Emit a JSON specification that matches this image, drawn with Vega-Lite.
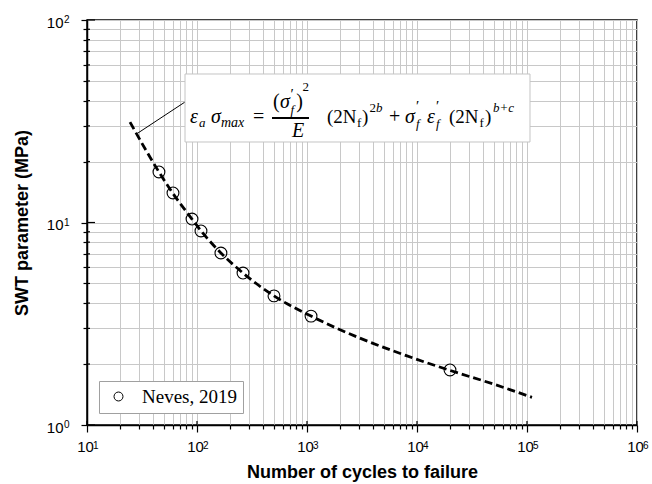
{
  "$schema": "https://vega.github.io/schema/vega-lite/v6.json",
  "width": 550,
  "height": 405,
  "autosize": {"type": "none"},
  "padding": {"left": 87, "top": 20, "right": 15, "bottom": 59},
  "background": "white",
  "data": {"values": [{}]},
  "datasets": {
    "curve": [
      {"N": 24.6, "S": 31.3},
      {"N": 45, "S": 17.8},
      {"N": 60, "S": 14.0},
      {"N": 90, "S": 10.4},
      {"N": 109, "S": 9.08},
      {"N": 165, "S": 7.07},
      {"N": 262, "S": 5.63},
      {"N": 501, "S": 4.34},
      {"N": 1088, "S": 3.45},
      {"N": 3000, "S": 2.69},
      {"N": 8000, "S": 2.2},
      {"N": 19950, "S": 1.86},
      {"N": 50000, "S": 1.59},
      {"N": 111000, "S": 1.37}
    ],
    "points": [
      {"N": 45.1, "S": 17.76, "series": "Neves, 2019"},
      {"N": 60.5, "S": 13.99, "series": "Neves, 2019"},
      {"N": 90.1, "S": 10.4, "series": "Neves, 2019"},
      {"N": 108.7, "S": 9.08, "series": "Neves, 2019"},
      {"N": 165, "S": 7.07, "series": "Neves, 2019"},
      {"N": 262, "S": 5.63, "series": "Neves, 2019"},
      {"N": 501, "S": 4.34, "series": "Neves, 2019"},
      {"N": 1088, "S": 3.45, "series": "Neves, 2019"},
      {"N": 19950, "S": 1.87, "series": "Neves, 2019"}
    ],
    "xexp": [
      {"N": 10, "e": "1"}, {"N": 100, "e": "2"}, {"N": 1000, "e": "3"},
      {"N": 10000, "e": "4"}, {"N": 100000, "e": "5"}, {"N": 1000000, "e": "6"}
    ],
    "yexp": [
      {"S": 1, "e": "0"}, {"S": 10, "e": "1"}, {"S": 100, "e": "2"}
    ],
    "yminor": [
      {"S": 2}, {"S": 3}, {"S": 4}, {"S": 5}, {"S": 6}, {"S": 7}, {"S": 8}, {"S": 9},
      {"S": 20}, {"S": 30}, {"S": 40}, {"S": 50}, {"S": 60}, {"S": 70}, {"S": 80}, {"S": 90}
    ]
  },
  "layer": [
    {
      "data": {"name": "curve"},
      "mark": {"type": "line", "interpolate": "monotone", "color": "black", "strokeWidth": 2.8, "strokeDash": [8, 4]},
      "encoding": {
        "x": {
          "field": "N", "type": "quantitative",
          "scale": {"type": "log", "domain": [10, 1000000], "nice": false},
          "axis": {
            "title": "Number of cycles to failure",
            "values": [10,20,30,40,50,60,70,80,90,100,200,300,400,500,600,700,800,900,1000,2000,3000,4000,5000,6000,7000,8000,9000,10000,20000,30000,40000,50000,60000,70000,80000,90000,100000,200000,300000,400000,500000,600000,700000,800000,900000,1000000],
            "labelExpr": "abs(log(datum.value)/LN10 - round(log(datum.value)/LN10)) < 1e-6 ? '10' : ''",
            "tickSize": {"condition": {"test": "abs(log(datum.value)/LN10 - round(log(datum.value)/LN10)) < 1e-6", "value": 7}, "value": 4},
            "labelPadding": 7,
            "labelOffset": -2,
            "labelOverlap": false,
            "labelFlush": false,
            "labelBound": false,
            "titlePadding": 9,
            "grid": true
          }
        },
        "y": {
          "field": "S", "type": "quantitative",
          "scale": {"type": "log", "domain": [1, 100], "nice": false},
          "axis": {
            "title": "SWT parameter (MPa)",
            "values": [1,2,3,4,5,6,7,8,9,10,20,30,40,50,60,70,80,90,100],
            "labelExpr": "abs(log(datum.value)/LN10 - round(log(datum.value)/LN10)) < 1e-6 ? '10' : ''",
            "tickSize": {"condition": {"test": "abs(log(datum.value)/LN10 - round(log(datum.value)/LN10)) < 1e-6", "value": 6}, "value": 4},
            "labelPadding": 18,
            "labelOffset": 2,
            "labelOverlap": false,
            "labelFlush": false,
            "labelBound": false,
            "titlePadding": 15,
            "grid": true
          }
        }
      }
    },
    {
      "data": {"name": "points"},
      "mark": {"type": "point", "filled": false, "color": "black", "strokeWidth": 1.1, "size": 140, "opacity": 1},
      "encoding": {
        "x": {"field": "N", "type": "quantitative"},
        "y": {"field": "S", "type": "quantitative"},
        "shape": {
          "field": "series", "type": "nominal",
          "scale": {"range": ["circle"]},
          "legend": {
            "title": null,
            "orient": "bottom-left",
            "offset": 12,
            "fillColor": "white",
            "strokeColor": "#a0a0a0",
            "padding": 6,
            "symbolOffset": 4,
            "symbolSize": 80,
            "symbolStrokeColor": "black",
            "symbolStrokeWidth": 1,
            "symbolFillColor": "transparent",
            "labelFont": "Liberation Serif",
            "labelFontSize": 19,
            "labelColor": "black",
            "labelOffset": 14,
            "labelLimit": 300
          }
        }
      }
    },
    {
      "data": {"name": "xexp"},
      "mark": {"type": "rule", "color": "black", "strokeWidth": 1.2, "y2Offset": -4},
      "encoding": {"x": {"field": "N", "type": "quantitative"}, "y": {"datum": 1}, "y2": {"datum": 1}}
    },
    {
      "data": {"name": "yexp"},
      "mark": {"type": "rule", "color": "black", "strokeWidth": 1.2, "x2Offset": 8},
      "encoding": {"y": {"field": "S", "type": "quantitative"}, "x": {"datum": 10}, "x2": {"datum": 10}}
    },
    {
      "data": {"name": "yminor"},
      "mark": {"type": "rule", "color": "black", "strokeWidth": 1.2, "x2Offset": 3},
      "encoding": {"y": {"field": "S", "type": "quantitative"}, "x": {"datum": 10}, "x2": {"datum": 10}}
    },
    {
      "data": {"name": "xexp"},
      "mark": {"type": "text", "align": "left", "baseline": "top", "dx": 6, "dy": 16, "font": "Liberation Sans", "fontSize": 10, "color": "black"},
      "encoding": {"x": {"field": "N", "type": "quantitative"}, "y": {"datum": 1}, "text": {"field": "e"}}
    },
    {
      "data": {"name": "yexp"},
      "mark": {"type": "text", "align": "left", "baseline": "top", "dx": -23, "dy": -5, "font": "Liberation Sans", "fontSize": 10, "color": "black"},
      "encoding": {"x": {"datum": 10}, "y": {"field": "S", "type": "quantitative"}, "text": {"field": "e"}}
    },
    {
      "mark": {"type": "rule", "color": "black", "strokeWidth": 1},
      "encoding": {"x": {"datum": 77.8}, "y": {"datum": 39.36}, "x2": {"datum": 29.08}, "y2": {"datum": 27.67}}
    },
    {
      "mark": {"type": "rect", "fill": "white", "stroke": "#c4c4c4", "strokeWidth": 1},
      "encoding": {"x": {"datum": 77.8}, "x2": {"datum": 106480}, "y": {"datum": 54.12}, "y2": {"datum": 24.98}}
    },
    {
      "mark": {"type": "rule", "color": "black", "strokeWidth": 2},
      "encoding": {"x": {"datum": 480.7}, "x2": {"datum": 1042.7}, "y": {"datum": 32.81}}
    },
    {"mark": {"type": "text", "text": "ε", "align": "left", "baseline": "alphabetic", "font": "Liberation Serif", "fontSize": 20, "fontStyle": "italic", "color": "black"}, "encoding": {"x": {"datum": 86.38}, "y": {"datum": 31.0}}},
    {"mark": {"type": "text", "text": "a", "align": "left", "baseline": "alphabetic", "font": "Liberation Serif", "fontSize": 13, "fontStyle": "italic", "color": "black"}, "encoding": {"x": {"datum": 104.3}, "y": {"datum": 29.62}}},
    {"mark": {"type": "text", "text": "σ", "align": "left", "baseline": "alphabetic", "font": "Liberation Serif", "fontSize": 20, "fontStyle": "italic", "color": "black"}, "encoding": {"x": {"datum": 134.1}, "y": {"datum": 31.0}}},
    {"mark": {"type": "text", "text": "max", "align": "left", "baseline": "alphabetic", "font": "Liberation Serif", "fontSize": 14, "fontStyle": "italic", "color": "black"}, "encoding": {"x": {"datum": 165.3}, "y": {"datum": 29.62}}},
    {"mark": {"type": "text", "text": "=", "align": "left", "baseline": "alphabetic", "font": "Liberation Serif", "fontSize": 20, "color": "black"}, "encoding": {"x": {"datum": 322.9}, "y": {"datum": 31.0}}},
    {"mark": {"type": "text", "text": "(", "align": "left", "baseline": "alphabetic", "font": "Liberation Serif", "fontSize": 20, "color": "black"}, "encoding": {"x": {"datum": 490.9}, "y": {"datum": 36.77}}},
    {"mark": {"type": "text", "text": "σ", "align": "left", "baseline": "alphabetic", "font": "Liberation Serif", "fontSize": 20, "fontStyle": "italic", "color": "black"}, "encoding": {"x": {"datum": 568.3}, "y": {"datum": 36.77}}},
    {"mark": {"type": "text", "text": "′", "align": "left", "baseline": "alphabetic", "font": "Liberation Serif", "fontSize": 15, "color": "black"}, "encoding": {"x": {"datum": 707.9}, "y": {"datum": 40.5}}},
    {"mark": {"type": "text", "text": "f", "align": "left", "baseline": "alphabetic", "font": "Liberation Serif", "fontSize": 13, "fontStyle": "italic", "color": "black"}, "encoding": {"x": {"datum": 707.9}, "y": {"datum": 34.35}}},
    {"mark": {"type": "text", "text": ")", "align": "left", "baseline": "alphabetic", "font": "Liberation Serif", "fontSize": 20, "color": "black"}, "encoding": {"x": {"datum": 800}, "y": {"datum": 36.77}}},
    {"mark": {"type": "text", "text": "2", "align": "left", "baseline": "alphabetic", "font": "Liberation Serif", "fontSize": 13, "color": "black"}, "encoding": {"x": {"datum": 910}, "y": {"datum": 44.6}}},
    {"mark": {"type": "text", "text": "E", "align": "center", "baseline": "alphabetic", "font": "Liberation Serif", "fontSize": 20, "fontStyle": "italic", "color": "black"}, "encoding": {"x": {"datum": 828.2}, "y": {"datum": 26.44}}},
    {"mark": {"type": "text", "text": "(2N", "align": "left", "baseline": "alphabetic", "font": "Liberation Serif", "fontSize": 19, "color": "black"}, "encoding": {"x": {"datum": 1519.9}, "y": {"datum": 31.0}}},
    {"mark": {"type": "text", "text": "f", "align": "left", "baseline": "alphabetic", "font": "Liberation Serif", "fontSize": 13, "color": "black"}, "encoding": {"x": {"datum": 2848}, "y": {"datum": 29.62}}},
    {"mark": {"type": "text", "text": ")", "align": "left", "baseline": "alphabetic", "font": "Liberation Serif", "fontSize": 19, "color": "black"}, "encoding": {"x": {"datum": 3162.3}, "y": {"datum": 31.0}}},
    {"mark": {"type": "text", "text": "2", "align": "left", "baseline": "alphabetic", "font": "Liberation Serif", "fontSize": 13, "color": "black"}, "encoding": {"x": {"datum": 3700}, "y": {"datum": 35.13}}},
    {"mark": {"type": "text", "text": "b", "align": "left", "baseline": "alphabetic", "font": "Liberation Serif", "fontSize": 13, "fontStyle": "italic", "color": "black"}, "encoding": {"x": {"datum": 4239}, "y": {"datum": 35.13}}},
    {"mark": {"type": "text", "text": "+", "align": "left", "baseline": "alphabetic", "font": "Liberation Serif", "fontSize": 20, "color": "black"}, "encoding": {"x": {"datum": 5563}, "y": {"datum": 31.0}}},
    {"mark": {"type": "text", "text": "σ", "align": "left", "baseline": "alphabetic", "font": "Liberation Serif", "fontSize": 20, "fontStyle": "italic", "color": "black"}, "encoding": {"x": {"datum": 7780}, "y": {"datum": 31.0}}},
    {"mark": {"type": "text", "text": "′", "align": "left", "baseline": "alphabetic", "font": "Liberation Serif", "fontSize": 15, "color": "black"}, "encoding": {"x": {"datum": 9793}, "y": {"datum": 35.53}}},
    {"mark": {"type": "text", "text": "f", "align": "left", "baseline": "alphabetic", "font": "Liberation Serif", "fontSize": 13, "fontStyle": "italic", "color": "black"}, "encoding": {"x": {"datum": 9793}, "y": {"datum": 29.29}}},
    {"mark": {"type": "text", "text": "ε", "align": "left", "baseline": "alphabetic", "font": "Liberation Serif", "fontSize": 20, "fontStyle": "italic", "color": "black"}, "encoding": {"x": {"datum": 12328}, "y": {"datum": 31.0}}},
    {"mark": {"type": "text", "text": "′", "align": "left", "baseline": "alphabetic", "font": "Liberation Serif", "fontSize": 15, "color": "black"}, "encoding": {"x": {"datum": 14885}, "y": {"datum": 35.53}}},
    {"mark": {"type": "text", "text": "f", "align": "left", "baseline": "alphabetic", "font": "Liberation Serif", "fontSize": 13, "fontStyle": "italic", "color": "black"}, "encoding": {"x": {"datum": 14885}, "y": {"datum": 29.29}}},
    {"mark": {"type": "text", "text": "(2N", "align": "left", "baseline": "alphabetic", "font": "Liberation Serif", "fontSize": 19, "color": "black"}, "encoding": {"x": {"datum": 19539}, "y": {"datum": 31.0}}},
    {"mark": {"type": "text", "text": "f", "align": "left", "baseline": "alphabetic", "font": "Liberation Serif", "fontSize": 13, "color": "black"}, "encoding": {"x": {"datum": 37000}, "y": {"datum": 29.62}}},
    {"mark": {"type": "text", "text": ")", "align": "left", "baseline": "alphabetic", "font": "Liberation Serif", "fontSize": 19, "color": "black"}, "encoding": {"x": {"datum": 41517}, "y": {"datum": 31.0}}},
    {"mark": {"type": "text", "text": "b+c", "align": "left", "baseline": "alphabetic", "font": "Liberation Serif", "fontSize": 13, "fontStyle": "italic", "color": "black"}, "encoding": {"x": {"datum": 49080}, "y": {"datum": 35.13}}}
  ],
  "config": {
    "view": {"stroke": "black", "strokeWidth": 1.5},
    "axis": {
      "domainColor": "black",
      "domainWidth": 1.5,
      "tickColor": "black",
      "tickWidth": 1.2,
      "gridColor": "#c8c8c8",
      "gridWidth": 1,
      "gridOpacity": 1,
      "labelFont": "Liberation Sans",
      "labelFontSize": 15,
      "labelColor": "black",
      "titleFont": "Liberation Sans",
      "titleFontSize": 18,
      "titleFontWeight": "bold",
      "titleColor": "black"
    }
  }
}
